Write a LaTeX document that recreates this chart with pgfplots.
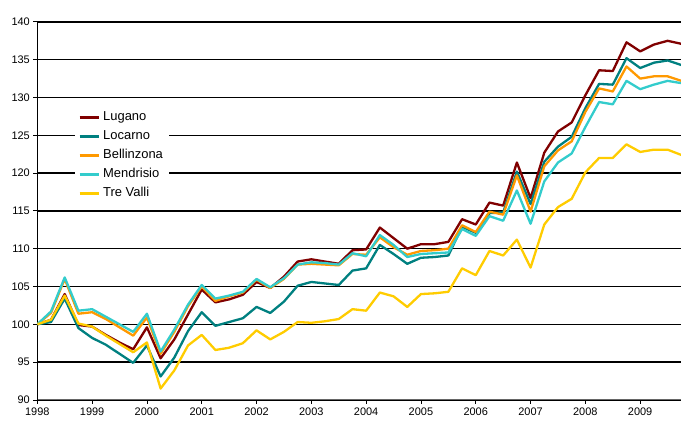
\documentclass[border=0pt]{standalone}
\usepackage{fontspec}
\setmainfont{Liberation Sans}
\usepackage{pgfplots}
\usepackage{pgfplotstable}
\pgfplotsset{compat=1.18}
\definecolor{cLug}{HTML}{800000}
\definecolor{cLoc}{HTML}{008080}
\definecolor{cBel}{HTML}{FF9900}
\definecolor{cMen}{HTML}{33CCCC}
\definecolor{cTre}{HTML}{FFCC00}
\pgfplotstableread{
t lug loc bel men tre
1998.00 100.0 100.0 100.0 100.0 100.0
1998.25 100.6 100.3 101.5 101.7 100.6
1998.50 104.0 103.4 106.0 106.2 103.8
1998.75 99.9 99.5 101.4 101.8 100.1
1999.00 99.7 98.2 101.6 102.0 99.7
1999.25 98.6 97.3 100.7 101.0 98.5
1999.50 97.6 96.1 99.6 100.0 97.4
1999.75 96.7 94.9 98.5 99.0 96.3
2000.00 99.6 97.2 100.9 101.4 97.6
2000.25 95.5 93.1 96.1 96.4 91.5
2000.50 98.0 95.6 99.0 99.3 93.9
2000.75 101.3 99.1 102.4 102.6 97.2
2001.00 104.6 101.6 105.0 105.2 98.6
2001.25 102.9 99.8 103.1 103.4 96.6
2001.50 103.3 100.3 103.7 103.8 96.9
2001.75 103.9 100.8 104.2 104.3 97.5
2002.00 105.6 102.3 105.9 106.0 99.2
2002.25 104.8 101.5 104.8 104.9 98.0
2002.50 106.3 103.0 106.0 106.1 99.0
2002.75 108.3 105.1 107.9 107.9 100.3
2003.00 108.6 105.6 108.0 108.2 100.2
2003.25 108.3 105.4 107.9 108.1 100.4
2003.50 108.0 105.2 107.8 107.9 100.7
2003.75 109.8 107.1 109.3 109.4 102.0
2004.00 109.9 107.4 109.2 109.0 101.8
2004.25 112.8 110.5 111.5 111.8 104.2
2004.50 111.4 109.3 110.2 110.5 103.7
2004.75 110.0 108.0 109.2 108.9 102.3
2005.00 110.6 108.8 109.7 109.3 104.0
2005.25 110.6 108.9 109.8 109.4 104.1
2005.50 110.9 109.1 110.0 109.5 104.3
2005.75 113.9 112.9 113.1 112.6 107.4
2006.00 113.2 112.1 112.2 111.7 106.5
2006.25 116.1 114.7 114.9 114.3 109.7
2006.50 115.7 114.8 114.5 113.7 109.1
2006.75 121.4 120.2 119.7 117.7 111.2
2007.00 116.7 115.9 114.9 113.3 107.5
2007.25 122.7 121.5 120.9 118.9 113.2
2007.50 125.5 123.5 123.0 121.4 115.5
2007.75 126.7 124.8 124.2 122.6 116.6
2008.00 130.3 128.6 128.1 126.1 120.1
2008.25 133.6 131.8 131.2 129.4 122.0
2008.50 133.5 131.7 130.8 129.1 122.0
2008.75 137.3 135.2 134.1 132.2 123.8
2009.00 136.1 133.9 132.5 131.1 122.8
2009.25 137.0 134.6 132.8 131.7 123.1
2009.50 137.5 134.9 132.8 132.2 123.1
2009.75 137.1 134.3 132.2 131.9 122.4
}\datatable
\begin{document}
\begin{tikzpicture}
\begin{axis}[
  scale only axis,
  width=644bp, height=378bp,
  xmin=1998, xmax=2009.75,
  ymin=90, ymax=140,
  xtick={1998,1999,...,2009},
  ytick={90,95,...,140},
  x tick label style={/pgf/number format/1000 sep={}},
  /pgf/number format/assume math mode=true,
  tick label style={font=\fontsize{11}{13}\selectfont},
  axis x line*=bottom,
  axis y line*=left,
  x axis line style={draw=gray!80!black, line width=1bp},
  y axis line style={draw=black, line width=1bp},
  tick align=outside,
  major tick length=4bp,
  tick style={black, line width=0.8bp},
  ymajorgrids,
  major grid style={black, line width=1.3bp},
  legend style={at={(rel axis cs:0.0585,0.7722)}, anchor=north west,
    draw=none, fill=white, font=\fontsize{13}{15}\selectfont,
    inner xsep=3bp, inner ysep=2bp, row sep=5bp,
    nodes={text height=9bp, text depth=3bp, inner ysep=1bp, inner xsep=3bp},
    cells={anchor=west}},
  legend image code/.code={\draw[#1, line width=3bp] (0bp,0bp) -- (19bp,0bp);},
  every axis plot/.append style={line width=2.3bp, line join=round, mark=none},
]
\addplot[cLug] table[x=t, y=lug] {\datatable};
\addlegendentry{Lugano}
\addplot[cLoc] table[x=t, y=loc] {\datatable};
\addlegendentry{Locarno}
\addplot[cBel] table[x=t, y=bel] {\datatable};
\addlegendentry{Bellinzona}
\addplot[cMen] table[x=t, y=men] {\datatable};
\addlegendentry{Mendrisio}
\addplot[cTre] table[x=t, y=tre] {\datatable};
\addlegendentry{Tre Valli}
\end{axis}
\pgfresetboundingbox
\path (-37.3bp,-22.1bp) rectangle (643.7bp,399.9bp);
\end{tikzpicture}
\end{document}
